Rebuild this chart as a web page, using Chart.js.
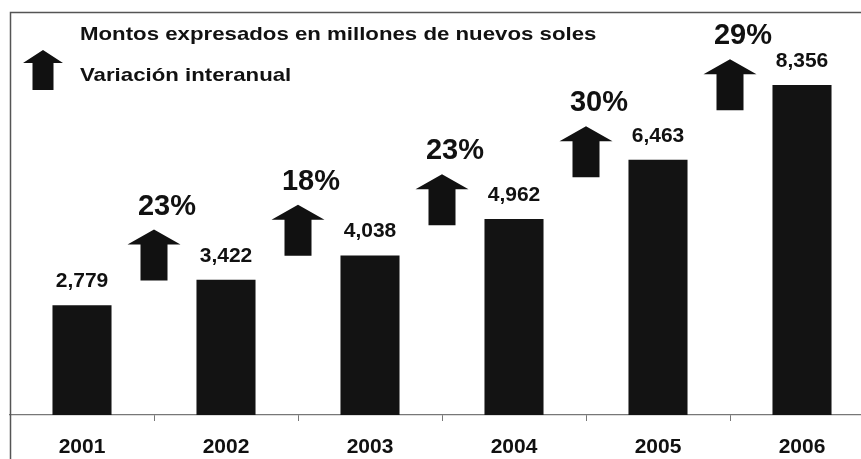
<!DOCTYPE html>
<html>
<head>
<meta charset="utf-8">
<script src="https://cdn.jsdelivr.net/npm/chart.js@4"></script>
<style>
    html, body { margin: 0; padding: 0; background: #fff; overflow: hidden; }
    #wrap { width: 876px; height: 459px; }
</style>
</head>
<body>
<div id="wrap"><canvas id="montosChart" width="876" height="459"></canvas></div>
<script>
// Datos del gráfico
const years = ['2001', '2002', '2003', '2004', '2005', '2006'];
const montos = [2779, 3422, 4038, 4962, 6463, 8356];
const variacion = [23, 18, 23, 30, 29];

const tituloMontos = 'Montos expresados en millones de nuevos soles';
const tituloVariacion = 'Variación interanual';

const FONT = '"Liberation Sans", Arial, sans-serif';

// Flecha negra hacia arriba
function drawArrow(ctx, cx, top, bottom, headW, shaftW, headH) {
    ctx.beginPath();
    ctx.moveTo(cx, top);
    ctx.lineTo(cx + headW / 2, top + headH);
    ctx.lineTo(cx + shaftW / 2, top + headH);
    ctx.lineTo(cx + shaftW / 2, bottom);
    ctx.lineTo(cx - shaftW / 2, bottom);
    ctx.lineTo(cx - shaftW / 2, top + headH);
    ctx.lineTo(cx - headW / 2, top + headH);
    ctx.closePath();
    ctx.fill();
}

// Texto ensanchado (el original tiene letras más anchas)
function wideText(ctx, text, x, y, stretch) {
    ctx.save();
    ctx.translate(x, y);
    ctx.scale(stretch, 1);
    ctx.fillText(text, 0, 0);
    ctx.restore();
}

// Marco, leyenda, etiquetas y flechas de variación
const decoracion = {
    id: 'decoracion',
    afterDatasetsDraw(chart) {
        const ctx = chart.ctx;
        const bars = chart.getDatasetMeta(0).data;
        ctx.save();

        // marco
        ctx.strokeStyle = '#555';
        ctx.lineWidth = 1.5;
        ctx.beginPath();
        ctx.moveTo(10.5, 470);
        ctx.lineTo(10.5, 12.5);
        ctx.lineTo(880, 12.5);
        ctx.stroke();

        // leyenda
        ctx.fillStyle = '#111';
        ctx.font = 'bold 19px ' + FONT;
        ctx.textAlign = 'left';
        ctx.textBaseline = 'middle';
        wideText(ctx, tituloMontos, 80, 35, 1.17);
        wideText(ctx, tituloVariacion, 80, 76, 1.17);
        drawArrow(ctx, 43, 50, 90, 40, 21, 13);

        // valores sobre las barras
        ctx.font = 'bold 21px ' + FONT;
        ctx.textAlign = 'center';
        bars.forEach((bar, i) => {
            ctx.fillText(montos[i].toLocaleString('en-US'), bar.x, bar.y - 24);
        });

        // flechas de variación interanual
        variacion.forEach((v, i) => {
            const a = bars[i], b = bars[i + 1];
            const cx = (a.x + b.x) / 2;
            const bottom = (a.y + b.y) / 2 - 12;
            const top = bottom - 51;
            drawArrow(ctx, cx, top, bottom, 53, 27, 15);
            ctx.font = 'bold 29px ' + FONT;
            ctx.fillText(v + '%', cx + 13, top - 23);
        });

        ctx.restore();
    }
};

new Chart(document.getElementById('montosChart').getContext('2d'), {
    type: 'bar',
    data: {
        labels: years,
        datasets: [{
            data: montos,
            backgroundColor: '#131313',
            barPercentage: 0.82,
            categoryPercentage: 0.5
        }]
    },
    options: {
        responsive: false,
        animation: false,
        layout: { padding: { top: 20, left: 10, right: 2, bottom: 0 } },
        plugins: { legend: { display: false }, tooltip: { enabled: false } },
        scales: {
            x: {
                offset: true,
                afterFit(scale) { scale.height = 44; },
                border: { display: true, color: '#777', width: 1.2 },
                grid: { offset: true, drawOnChartArea: false, tickLength: 6, color: '#777' },
                ticks: { color: '#111', padding: 14, font: { family: FONT, size: 21, weight: 'bold' } }
            },
            y: {
                display: false,
                min: 0,
                max: 10000
            }
        }
    },
    plugins: [decoracion]
});
</script>
</body>
</html>
